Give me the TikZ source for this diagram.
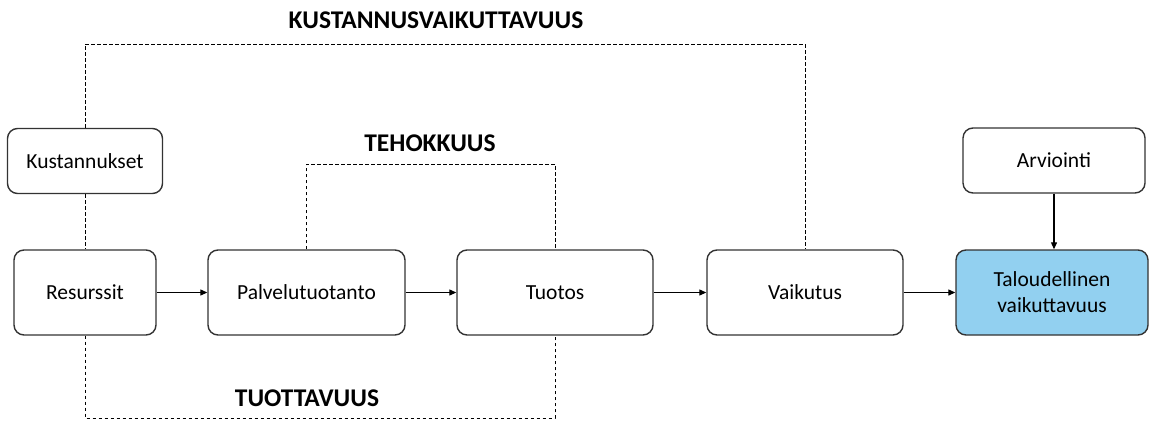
\documentclass[tikz,border=0pt]{standalone}
\usepackage{fontspec}
\setmainfont{Carlito}
\usetikzlibrary{arrows.meta}
\definecolor{boxline}{RGB}{51,51,51}
\definecolor{resultfill}{RGB}{146,208,240}
\tikzset{
  stagebox/.style={draw=boxline, line width=1.4pt, rounded corners=10pt,
    fill=white, align=center, font=\fontsize{21.5}{26}\selectfont,
    minimum height=85pt, inner sep=2pt},
  topbox/.style={stagebox, minimum height=65pt},
  flow/.style={draw=black, line width=1.2pt, -{Triangle[length=7pt,width=6pt]}},
  measure/.style={draw=black, line width=1pt, dash pattern=on 3.5pt off 2.5pt},
  measurelabel/.style={font=\bfseries\fontsize{25.5}{30}\selectfont}
}
\begin{document}
\begin{tikzpicture}[x=1pt,y=-1pt]
\useasboundingbox (0,0) rectangle (1150,423);

% main chain
\node[stagebox, minimum width=142pt] (res)  at (85,292.5)    {Resurssit};
\node[stagebox, minimum width=197pt] (palv) at (306.5,292.5) {Palvelutuotanto};
\node[stagebox, minimum width=196pt] (tuo)  at (555,292.5)   {Tuotos};
\node[stagebox, minimum width=196pt] (vaik) at (805,292.5)   {Vaikutus};
\node[stagebox, minimum width=192pt, fill=resultfill] (tal) at (1052,292.5)
  {Taloudellinen\\vaikuttavuus};

% upper boxes
\node[topbox, minimum width=155pt] (kust) at (85,161)   {Kustannukset};
\node[topbox, minimum width=182pt] (arv)  at (1054,160.5) {Arviointi};

% flow arrows
\draw[flow] (res.east)  -- (palv.west);
\draw[flow] (palv.east) -- (tuo.west);
\draw[flow] (tuo.east)  -- (vaik.west);
\draw[flow] (vaik.east) -- (tal.west);
\draw[flow] (arv.south) -- (arv.south |- tal.north);

% measure brackets
\coordinate (kvtop) at (445,44);
\coordinate (thtop) at (430,164);
\coordinate (tvbot) at (307,418);
\draw[measure] (kust.north) |- (kvtop) -| (vaik.north);
\draw[measure] (kust.south) -- (res.north);
\draw[measure] (palv.north) |- (thtop) -| (tuo.north);
\draw[measure] (res.south) |- (tvbot) -| (tuo.south);

% labels
\node[measurelabel] (kvlab) at (436,20)  {KUSTANNUSVAIKUTTAVUUS};
\node[measurelabel] (thlab) at (430,143) {TEHOKKUUS};
\node[measurelabel] (tvlab) at (307,398) {TUOTTAVUUS};
\end{tikzpicture}
\end{document}
